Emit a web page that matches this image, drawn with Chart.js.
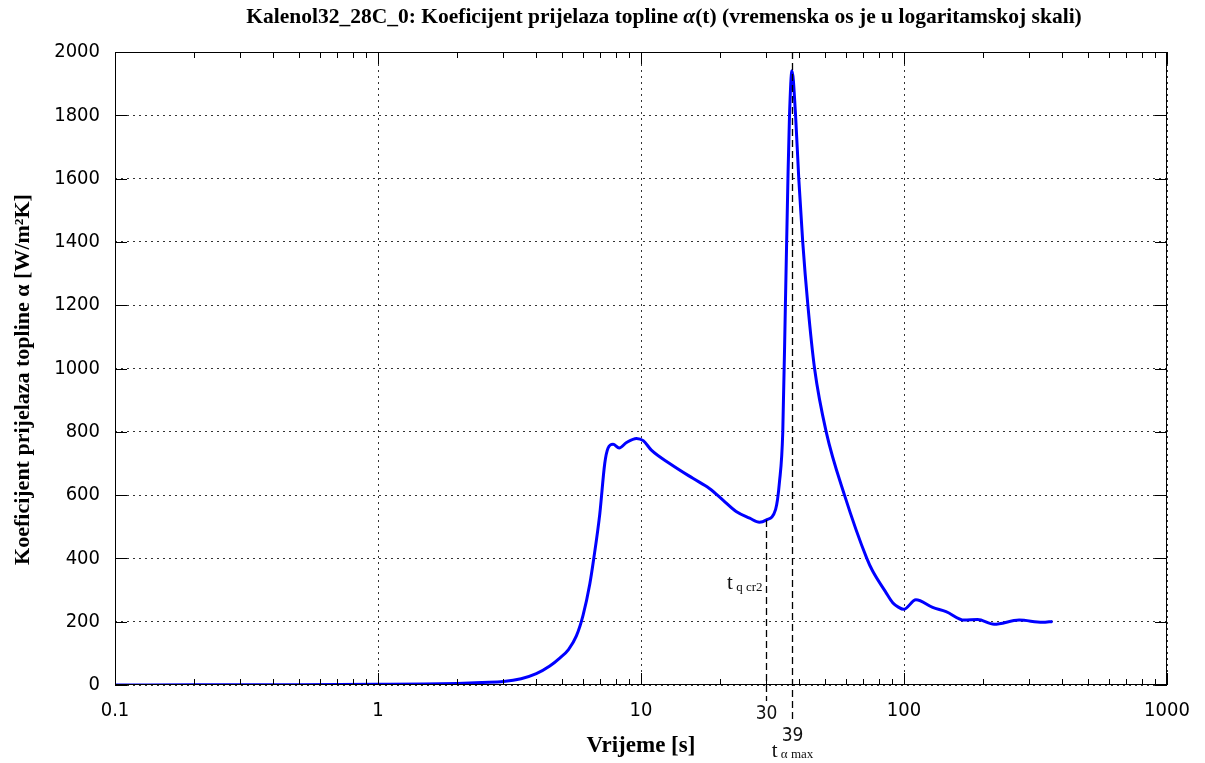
<!DOCTYPE html>
<html>
<head>
<meta charset="utf-8">
<script src="https://cdn.jsdelivr.net/npm/chart.js@4/dist/chart.umd.min.js"></script>
<style>
body { margin: 0; background: #fff; }
#wrap { width: 1205px; height: 763px; }
</style>
</head>
<body>
<div id="wrap"><canvas id="chart_alpha"></canvas></div>
<script>
// vrijeme [s]
const timeS = [0.1, 0.2, 0.5, 1, 1.5, 2, 2.5, 3, 3.5, 4, 4.5, 4.91, 5.3, 5.68, 6.02, 6.39, 6.6, 6.97, 7.28, 7.49,
    7.83, 8.26, 8.81, 9.61, 10.2, 10.95, 12.85, 15.75, 18.2, 20.5, 23.0, 25.9, 28.2, 29.9, 32.5, 33.6, 34.6,
    35.4, 36.2, 36.7, 37.5, 38.7, 39.8, 41.2, 43.1, 45.7, 50.6, 59.4, 72.2, 76, 85, 90.6, 95.2, 99.7, 111,
    128.5, 144.5, 169.5, 190.5, 220, 274, 336, 367];
// koeficijent prijelaza topline [W/m2K]
const alphaW = [0, 0.5, 1, 2, 3, 5, 8, 11, 20, 36, 60, 85, 112, 155, 220, 320, 395, 540, 700, 748,
    761, 749, 766, 779, 772, 742, 700, 653, 621, 584, 548, 527, 514, 521, 555, 640, 800,
    1200, 1600, 1800, 1941, 1800, 1600, 1400, 1200, 1000, 800, 600, 400, 360, 295, 260, 246, 239, 269,
    245, 232, 205, 207, 192, 205, 198, 201];

const xTicks = [0.1, 1, 10, 100, 1000];
const yMax = 2000;
const yStep = 200;

// oznake na grafu
const tQcr2 = 30;
const alphaQcr2 = 521;
const tAlphaMax = 37.5;
const markLabels = ['30', '39'];

const titleParts = ['Kalenol32_28C_0: Koeficijent prijelaza topline ', '\u03b1', '(t) (vremenska os je u logaritamskoj skali)'];
const yTitle = 'Koeficijent prijelaza topline \u03b1 [W/m\u00b2K]';

const numFont = '"DejaVu Sans Condensed", "Liberation Sans", sans-serif';
const serifFont = '"Liberation Serif", "Times New Roman", serif';

const frame = {
    id: 'frame',
    afterDraw(chart) {
        const {ctx, chartArea: a, scales: {x, y}} = chart;
        ctx.save();
        ctx.strokeStyle = '#000';
        ctx.lineWidth = 1;
        ctx.strokeRect(a.left + 0.5, a.top + 0.5, a.width - 1, a.height - 1);

        // tick marks inside the box, top and bottom
        ctx.beginPath();
        for (let e = -1; e <= 3; e++) {
            for (let m = 1; m <= 9; m++) {
                const v = m * Math.pow(10, e);
                if (v > 1000) break;
                const px = Math.round(x.getPixelForValue(v)) + 0.5;
                const len = m === 1 ? 12 : 6;
                ctx.moveTo(px, a.bottom); ctx.lineTo(px, a.bottom - len);
                ctx.moveTo(px, a.top); ctx.lineTo(px, a.top + len);
            }
        }
        for (let v = 0; v <= yMax; v += yStep) {
            const py = Math.round(y.getPixelForValue(v)) + 0.5;
            ctx.moveTo(a.left, py); ctx.lineTo(a.left + 12, py);
            ctx.moveTo(a.right, py); ctx.lineTo(a.right - 12, py);
        }
        ctx.stroke();

        // dashed marker lines
        const x1 = Math.round(x.getPixelForValue(tQcr2)) + 0.5;
        const x2 = Math.round(x.getPixelForValue(tAlphaMax)) + 0.5;
        ctx.setLineDash([7, 4]);
        ctx.lineWidth = 1.3;
        ctx.beginPath();
        ctx.moveTo(x1, y.getPixelForValue(alphaQcr2));
        ctx.lineTo(x1, a.bottom + 16);
        ctx.moveTo(x2, a.top);
        ctx.lineTo(x2, a.bottom + 36);
        ctx.stroke();
        ctx.setLineDash([]);

        ctx.fillStyle = '#111';
        ctx.textAlign = 'center';
        ctx.textBaseline = 'middle';
        ctx.font = '19px ' + numFont;
        ctx.fillText(markLabels[0], x1, a.bottom + 29);
        ctx.fillText(markLabels[1], x2, a.bottom + 51);

        // t alpha max
        ctx.textAlign = 'left';
        ctx.font = '21px ' + serifFont;
        const tw = ctx.measureText('t').width;
        ctx.font = '13px ' + serifFont;
        const sw = ctx.measureText(' \u03b1 max').width;
        let sx = x2 - (tw + sw) / 2;
        ctx.font = '21px ' + serifFont;
        ctx.fillText('t', sx, a.bottom + 66);
        ctx.font = '13px ' + serifFont;
        ctx.fillText(' \u03b1 max', sx + tw, a.bottom + 70);

        // t q cr2
        ctx.font = '13px ' + serifFont;
        const qw = ctx.measureText(' q cr2').width;
        ctx.font = '21px ' + serifFont;
        const tw2 = ctx.measureText('t').width;
        sx = x1 - 4 - qw - tw2;
        const ty = y.getPixelForValue(320);
        ctx.fillText('t', sx, ty);
        ctx.font = '13px ' + serifFont;
        ctx.fillText(' q cr2', sx + tw2, ty + 4);

        // naslov
        ctx.fillStyle = '#000';
        const fonts = ['bold 21.5px ' + serifFont, 'italic bold 21.5px ' + serifFont, 'bold 21.5px ' + serifFont];
        const widths = titleParts.map((s, i) => { ctx.font = fonts[i]; return ctx.measureText(s).width; });
        let tx = 664 - widths.reduce((p, c) => p + c, 0) / 2;
        titleParts.forEach((s, i) => {
            ctx.font = fonts[i];
            ctx.fillText(s, tx, 17);
            tx += widths[i];
        });

        // naslov osi y
        ctx.translate(23, (a.top + a.bottom) / 2 + 11);
        ctx.rotate(-Math.PI / 2);
        ctx.textAlign = 'center';
        ctx.font = 'bold 22px ' + serifFont;
        ctx.fillText(yTitle, 0, 0);
        ctx.restore();
    }
};

new Chart(
    document.getElementById('chart_alpha'),
    {
        type: 'line',
        data: {
            datasets: [
                {
                    label: 'alpha',
                    data: timeS.map((t, i) => ({x: t, y: alphaW[i]})),
                    borderColor: '#0000ff',
                    borderWidth: 3,
                    pointRadius: 0,
                    cubicInterpolationMode: 'monotone',
                    fill: false
                }
            ]
        },
        options: {
            responsive: true,
            maintainAspectRatio: false,
            animation: false,
            layout: { padding: { left: 0, right: 38, top: 52, bottom: 0 } },
            plugins: {
                legend: { display: false },
                tooltip: { enabled: false },
                title: { display: false }
            },
            scales: {
                x: {
                    type: 'logarithmic',
                    min: 0.1,
                    max: 1000,
                    afterBuildTicks: scale => { scale.ticks = xTicks.map(v => ({value: v})); },
                    afterFit: scale => { scale.height = 78; },
                    ticks: {
                        color: '#000',
                        font: { family: numFont, size: 20 },
                        padding: 14,
                        maxRotation: 0,
                        autoSkip: false,
                        callback: v => String(v)
                    },
                    grid: { color: '#333', lineWidth: 1, drawTicks: false },
                    border: { display: false, dash: [2, 4] },
                    title: {
                        display: true,
                        text: 'Vrijeme [s]',
                        color: '#000',
                        font: { family: serifFont, size: 23, weight: 'bold' },
                        padding: { top: 0, bottom: 3 }
                    }
                },
                y: {
                    min: 0,
                    max: yMax,
                    afterFit: scale => { scale.width = 115; },
                    ticks: {
                        stepSize: yStep,
                        color: '#000',
                        font: { family: numFont, size: 20 },
                        padding: 15,
                        callback: v => String(v)
                    },
                    grid: { color: '#333', lineWidth: 1, drawTicks: false },
                    border: { display: false, dash: [2, 4] }
                }
            }
        },
        plugins: [frame]
    }
);
</script>
</body>
</html>
